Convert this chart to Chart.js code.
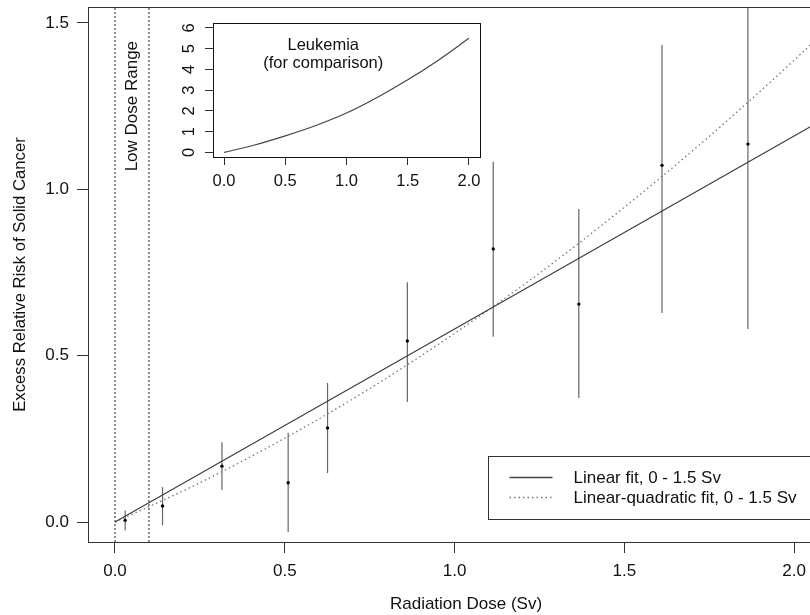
<!DOCTYPE html>
<html>
<head>
<meta charset="utf-8">
<script src="https://cdn.jsdelivr.net/npm/chart.js@4.4.1/dist/chart.umd.min.js"></script>
<style>
  html, body { margin: 0; padding: 0; background: #fff; }
  #wrap { position: relative; width: 810px; height: 615px; overflow: hidden; }
  #main { position: absolute; left: 0; top: 0; }
  #inset { position: absolute; left: 150px; top: 0; }
</style>
</head>
<body>
<div id="wrap">
  <canvas id="main" width="850" height="615"></canvas>
  <canvas id="inset" width="340" height="200"></canvas>
</div>
<script>
// Solid cancer: observed excess relative risk by dose group
const dose = [0.03, 0.14, 0.315, 0.51, 0.626, 0.861, 1.114, 1.366, 1.611, 1.864];
const risk = [0.005, 0.048, 0.168, 0.118, 0.283, 0.544, 0.821, 0.655, 1.072, 1.136];
const riskLow = [-0.025, -0.01, 0.096, -0.03, 0.147, 0.361, 0.557, 0.373, 0.628, 0.58];
const riskHigh = [0.035, 0.105, 0.24, 0.268, 0.418, 0.721, 1.083, 0.941, 1.434, 1.7];

// Fitted curves
const fitDose = [0, 0.25, 0.5, 0.75, 1.0, 1.25, 1.5, 1.75, 2.0, 2.25];
const linearFit = [0, 0.145, 0.29, 0.435, 0.58, 0.725, 0.87, 1.015, 1.16, 1.305];
const lqFit = [0, 0.118, 0.252, 0.401, 0.567, 0.748, 0.946, 1.159, 1.388, 1.633];

// Low dose range bounds (Sv)
const lowDoseBounds = [0, 0.1];

// Leukemia inset
const leukDose = [0, 0.25, 0.5, 0.75, 1.0, 1.25, 1.5, 1.75, 2.0];
const leukRisk = [0, 0.36, 0.8, 1.3, 1.9, 2.65, 3.5, 4.45, 5.5];

// Ticks
const xTicks = [0, 0.5, 1.0, 1.5, 2.0];
const xTickLabels = ['0.0', '0.5', '1.0', '1.5', '2.0'];
const yTicks = [0, 0.5, 1.0, 1.5];
const yTickLabels = ['0.0', '0.5', '1.0', '1.5'];
const insetXTicks = [0, 0.5, 1.0, 1.5, 2.0];
const insetXTickLabels = ['0.0', '0.5', '1.0', '1.5', '2.0'];
const insetYTicks = [0, 1, 2, 3, 4, 5, 6];
const insetYTickLabels = ['0', '1', '2', '3', '4', '5', '6'];

const FONT = '"Liberation Sans", Arial, Helvetica, sans-serif';
Chart.defaults.font.family = FONT;
Chart.defaults.color = '#111';

const Y_MIN = -0.06, Y_MAX = 1.548;

function pts(xs, ys) {
    return xs.map((x, i) => ({ x: x, y: ys[i] }));
}

// keep the plot region where the padding puts it
function noScalePadding(s) {
    s.paddingTop = 0;
    s.paddingBottom = 0;
    s.paddingLeft = 0;
    s.paddingRight = 0;
}

// box round the plot region
const boxPlugin = {
    id: 'box',
    afterDraw(chart) {
        const a = chart.chartArea;
        const ctx = chart.ctx;
        ctx.save();
        ctx.strokeStyle = chart.options.boxColor || '#333';
        ctx.lineWidth = 1;
        ctx.strokeRect(Math.round(a.left) + 0.5, Math.round(a.top) + 0.5,
            Math.round(a.right - a.left), Math.round(a.bottom - a.top));
        ctx.restore();
    }
};

// low dose label and legend on the main chart
const mainDecor = {
    id: 'mainDecor',
    afterDraw(chart) {
        const ctx = chart.ctx;
        const xs = chart.scales.x, ys = chart.scales.y;
        const a = chart.chartArea;
        ctx.save();
        // "Low Dose Range"
        ctx.font = '17px ' + FONT;
        ctx.fillStyle = '#111';
        ctx.textAlign = 'center';
        ctx.textBaseline = 'middle';
        ctx.translate(xs.getPixelForValue((lowDoseBounds[0] + lowDoseBounds[1]) / 2), ys.getPixelForValue(1.25));
        ctx.rotate(-Math.PI / 2);
        ctx.fillText('Low Dose Range', 0, 0);
        ctx.restore();

        // legend
        const w = 356, h = 63;
        const bx = Math.round(a.right - w) + 0.5;
        const by = Math.round(a.bottom - 23 - h) + 0.5;
        ctx.save();
        ctx.fillStyle = '#fff';
        ctx.fillRect(bx, by, w, h);
        ctx.strokeStyle = '#333';
        ctx.lineWidth = 1;
        ctx.strokeRect(bx, by, w, h);
        const rows = [
            { text: 'Linear fit, 0 - 1.5 Sv', color: '#444', dash: [], width: 1.3 },
            { text: 'Linear-quadratic fit, 0 - 1.5 Sv', color: '#777', dash: [1.5, 3], width: 1.3 }
        ];
        rows.forEach((r, i) => {
            const yy = by + 21 + i * 20;
            ctx.beginPath();
            ctx.strokeStyle = r.color;
            ctx.lineWidth = r.width;
            ctx.setLineDash(r.dash);
            ctx.moveTo(bx + 21, yy);
            ctx.lineTo(bx + 64, yy);
            ctx.stroke();
            ctx.setLineDash([]);
            ctx.fillStyle = '#111';
            ctx.font = '17px ' + FONT;
            ctx.textAlign = 'left';
            ctx.textBaseline = 'middle';
            ctx.fillText(r.text, bx + 85, yy + 1);
        });
        ctx.restore();
    }
};

const datasets = [];
datasets.push({
    label: 'Observed',
    data: pts(dose, risk),
    pointRadius: 1.7,
    pointBackgroundColor: '#000',
    pointBorderWidth: 0,
    showLine: false
});
datasets.push({
    label: 'Linear fit, 0 - 1.5 Sv',
    data: pts(fitDose, linearFit),
    showLine: true,
    borderColor: '#3a3a3a',
    borderWidth: 1.1,
    pointRadius: 0
});
datasets.push({
    label: 'Linear-quadratic fit, 0 - 1.5 Sv',
    data: pts(fitDose, lqFit),
    showLine: true,
    borderColor: '#777',
    borderWidth: 1.3,
    borderDash: [1.5, 3],
    cubicInterpolationMode: 'monotone',
    pointRadius: 0
});
dose.forEach((d, i) => {
    datasets.push({
        label: 'err' + i,
        data: [{ x: d, y: riskLow[i] }, { x: d, y: riskHigh[i] }],
        showLine: true,
        borderColor: '#666',
        borderWidth: 1.2,
        pointRadius: 0
    });
});
lowDoseBounds.forEach((b) => {
    datasets.push({
        label: 'bound' + b,
        data: [{ x: b, y: Y_MIN }, { x: b, y: Y_MAX }],
        showLine: true,
        borderColor: '#222',
        borderWidth: 1,
        borderDash: [2, 2],
        pointRadius: 0
    });
});

new Chart(document.getElementById('main').getContext('2d'), {
    type: 'scatter',
    data: { datasets: datasets },
    options: {
        responsive: false,
        animation: false,
        layout: { padding: { left: 0, top: 7, right: 6, bottom: 0 } },
        plugins: { legend: { display: false }, tooltip: { enabled: false } },
        scales: {
            x: {
                type: 'linear',
                min: -0.0795,
                max: 2.147,
                afterFit: (s) => { s.height = 73; noScalePadding(s); },
                afterBuildTicks: (s) => { s.ticks = xTicks.map(v => ({ value: v })); },
                ticks: {
                    callback: (v, i) => xTickLabels[i],
                    font: { size: 17 },
                    padding: 8,
                    maxRotation: 0,
                    autoSkip: false
                },
                grid: { drawOnChartArea: false, drawTicks: true, tickLength: 11, color: '#333' },
                border: { display: false },
                title: {
                    display: true,
                    text: 'Radiation Dose (Sv)',
                    font: { size: 17 },
                    padding: { top: 0, bottom: 0 }
                }
            },
            y: {
                type: 'linear',
                min: Y_MIN,
                max: Y_MAX,
                afterFit: (s) => { s.width = 88; noScalePadding(s); },
                afterBuildTicks: (s) => { s.ticks = yTicks.map(v => ({ value: v })); },
                ticks: {
                    callback: (v, i) => yTickLabels[i],
                    font: { size: 17 },
                    padding: 8,
                    autoSkip: false
                },
                grid: { drawOnChartArea: false, drawTicks: true, tickLength: 11, color: '#333' },
                border: { display: false },
                title: {
                    display: true,
                    text: 'Excess Relative Risk of Solid Cancer',
                    font: { size: 16.7 },
                    padding: { top: 10, bottom: 0 }
                }
            }
        }
    },
    plugins: [boxPlugin, mainDecor]
});

// inset: leukemia for comparison
const insetDecor = {
    id: 'insetDecor',
    afterDraw(chart) {
        const ctx = chart.ctx;
        const xs = chart.scales.x, ys = chart.scales.y;
        const a = chart.chartArea;
        ctx.save();
        ctx.font = '16.5px ' + FONT;
        ctx.fillStyle = '#111';
        ctx.textAlign = 'center';
        ctx.textBaseline = 'middle';
        insetYTicks.forEach((v, i) => {
            ctx.save();
            ctx.translate(a.left - 24, ys.getPixelForValue(v));
            ctx.rotate(-Math.PI / 2);
            ctx.fillText(insetYTickLabels[i], 0, 0);
            ctx.restore();
        });
        ctx.fillText('Leukemia', xs.getPixelForValue(0.81), ys.getPixelForValue(5.14));
        ctx.fillText('(for comparison)', xs.getPixelForValue(0.81), ys.getPixelForValue(4.27));
        ctx.restore();
    }
};

new Chart(document.getElementById('inset').getContext('2d'), {
    type: 'scatter',
    data: {
        datasets: [{
            label: 'Leukemia',
            data: pts(leukDose, leukRisk),
            showLine: true,
            borderColor: '#444',
            borderWidth: 1.2,
            cubicInterpolationMode: 'monotone',
            pointRadius: 0
        }]
    },
    options: {
        responsive: false,
        animation: false,
        layout: { padding: { left: 0, top: 23, right: 10, bottom: 0 } },
        plugins: { legend: { display: false }, tooltip: { enabled: false } },
        boxColor: '#111',
        scales: {
            x: {
                type: 'linear',
                min: -0.09,
                max: 2.09,
                afterFit: (s) => { s.height = 43; noScalePadding(s); },
                afterBuildTicks: (s) => { s.ticks = insetXTicks.map(v => ({ value: v })); },
                ticks: {
                    callback: (v, i) => insetXTickLabels[i],
                    font: { size: 16.5 },
                    padding: 7,
                    maxRotation: 0,
                    autoSkip: false
                },
                grid: { drawOnChartArea: false, drawTicks: true, tickLength: 8, color: '#333' },
                border: { display: false }
            },
            y: {
                type: 'linear',
                min: -0.22,
                max: 6.24,
                afterFit: (s) => { s.width = 63; noScalePadding(s); },
                afterBuildTicks: (s) => { s.ticks = insetYTicks.map(v => ({ value: v })); },
                ticks: { display: false, autoSkip: false },
                grid: { drawOnChartArea: false, drawTicks: true, tickLength: 8, color: '#333' },
                border: { display: false }
            }
        }
    },
    plugins: [boxPlugin, insetDecor]
});
</script>
</body>
</html>
